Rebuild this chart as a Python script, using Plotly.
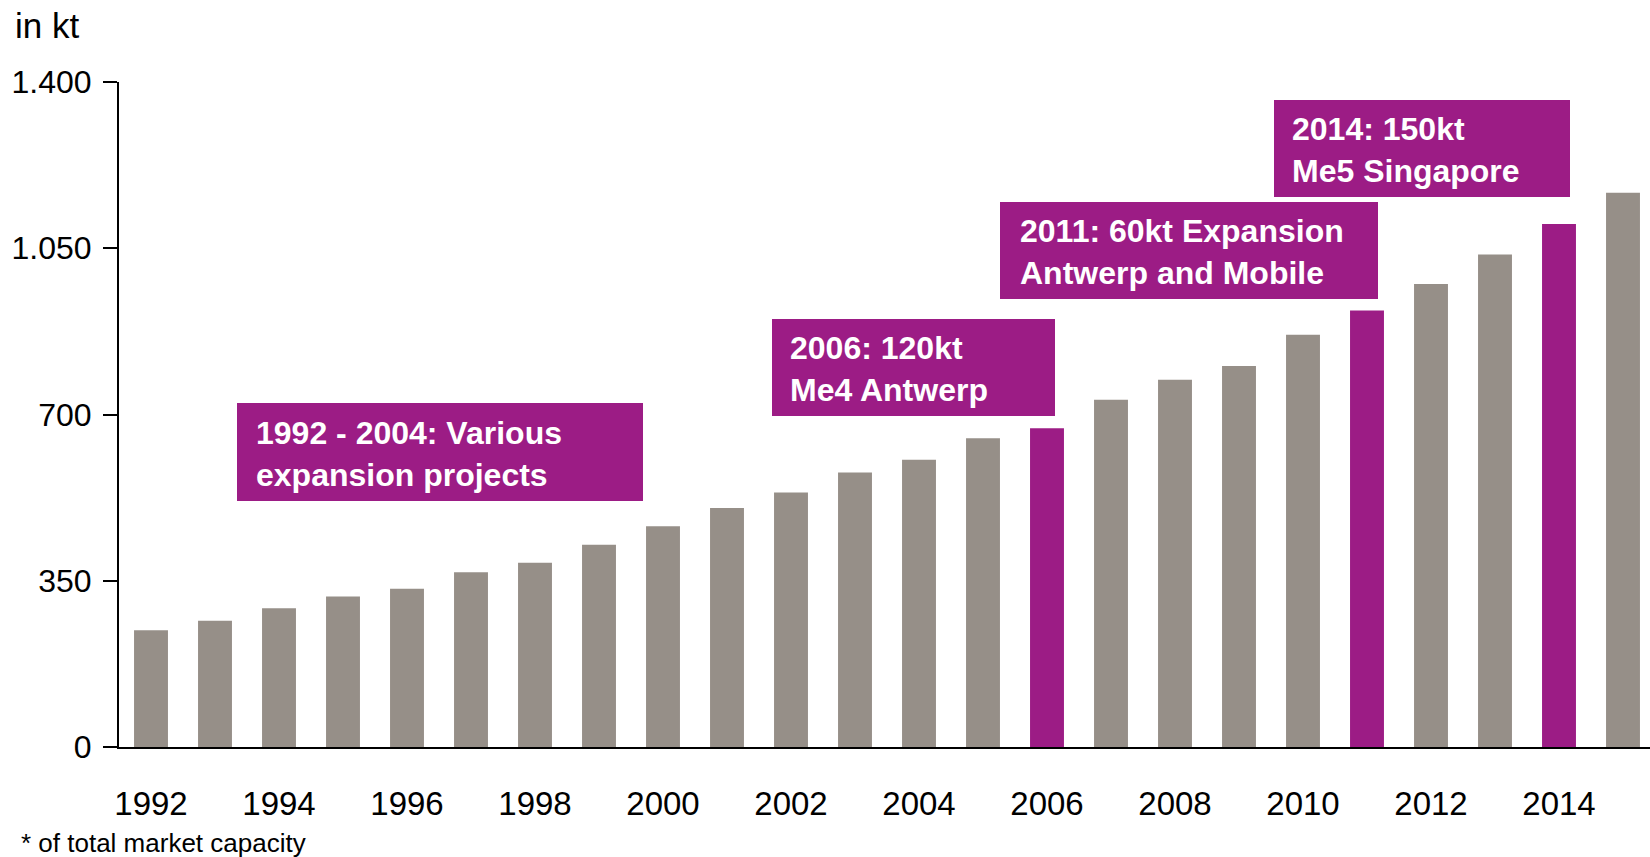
import plotly.graph_objects as go

years = list(range(1992, 2016))
capacity = [246, 266, 292, 317, 333, 368, 388, 426, 465, 503, 536, 578, 605, 650,
            671, 731, 773, 802, 868, 919, 975, 1037, 1101, 1167]
highlight_years = [2006, 2011, 2014]
y_tickvals = [0, 350, 700, 1050, 1400]
y_ticktext = ["0", "350", "700", "1.050", "1.400"]
x_tickvals = list(range(1992, 2015, 2))

GRAY = "#968F88"
PURPLE = "#9C1C85"

boxes = [
    ("1992 - 2004: Various<br>expansion projects", 237, 643, 403, 501, 255),
    ("2006: 120kt<br>Me4 Antwerp", 772, 1055, 319, 416, 789),
    ("2011: 60kt Expansion<br>Antwerp and Mobile", 1000, 1378, 202, 299, 1019),
    ("2014: 150kt<br>Me5 Singapore", 1274, 1570, 100, 197, 1291),
]

W, H = 1650, 857
L, R, T, B = 119, 1650, 82, 747
FONT = "Liberation Sans, Arial, sans-serif"


def px2x(px):
    return (px - L) / (R - L)


def px2y(py):
    return (B - py) / (B - T)


colors = [PURPLE if y in highlight_years else GRAY for y in years]

fig = go.Figure(go.Bar(x=years, y=capacity, marker=dict(color=colors, line=dict(width=0)),
                       hoverinfo="x+y"))

shapes = []
annotations = []
for text, x0, x1, y0, y1, tx in boxes:
    shapes.append(dict(type="rect", xref="paper", yref="paper",
                       x0=px2x(x0), x1=px2x(x1), y0=px2y(y1), y1=px2y(y0),
                       fillcolor=PURPLE, line=dict(width=0), layer="above"))
    annotations.append(dict(text=text, xref="paper", yref="paper",
                            x=px2x(tx), y=px2y((y0 + y1) / 2 + 1.5),
                            xanchor="left", yanchor="middle", align="left",
                            showarrow=False, borderpad=0,
                            font=dict(family=FONT, size=32, color="white", weight="bold")))

annotations.append(dict(text="in kt", xref="paper", yref="paper",
                        x=px2x(14), y=px2y(25), xanchor="left", yanchor="middle",
                        showarrow=False, borderpad=0,
                        font=dict(family=FONT, size=35, color="black")))
annotations.append(dict(text="* of total market capacity", xref="paper", yref="paper",
                        x=px2x(20), y=px2y(843), xanchor="left", yanchor="middle",
                        showarrow=False, borderpad=0,
                        font=dict(family=FONT, size=26, color="black")))

fig.update_layout(
    width=W, height=H,
    margin=dict(l=L, r=W - R, t=T, b=H - B, pad=0),
    paper_bgcolor="white", plot_bgcolor="white",
    bargap=0.47,
    showlegend=False,
    shapes=shapes,
    annotations=annotations,
    font=dict(family=FONT, color="black"),
    xaxis=dict(range=[1991.5, 1991.5 + (R - L) / 64.0], tickvals=x_tickvals,
               ticktext=[str(v) for v in x_tickvals],
               showline=True, linecolor="black", linewidth=2, ticks="",
               showgrid=False, zeroline=False, ticklabelstandoff=26,
               tickfont=dict(size=33, color="black")),
    yaxis=dict(range=[0, 1400], tickvals=y_tickvals, ticktext=y_ticktext,
               showline=True, linecolor="black", linewidth=2, ticks="outside",
               ticklen=14, tickwidth=2, tickcolor="black",
               showgrid=False, zeroline=False, ticklabelstandoff=5,
               tickfont=dict(size=32, color="black")),
)

fig.write_html("out.html", config={"displayModeBar": False},
               post_script="document.body.style.margin='0';document.body.style.overflow='hidden';")
